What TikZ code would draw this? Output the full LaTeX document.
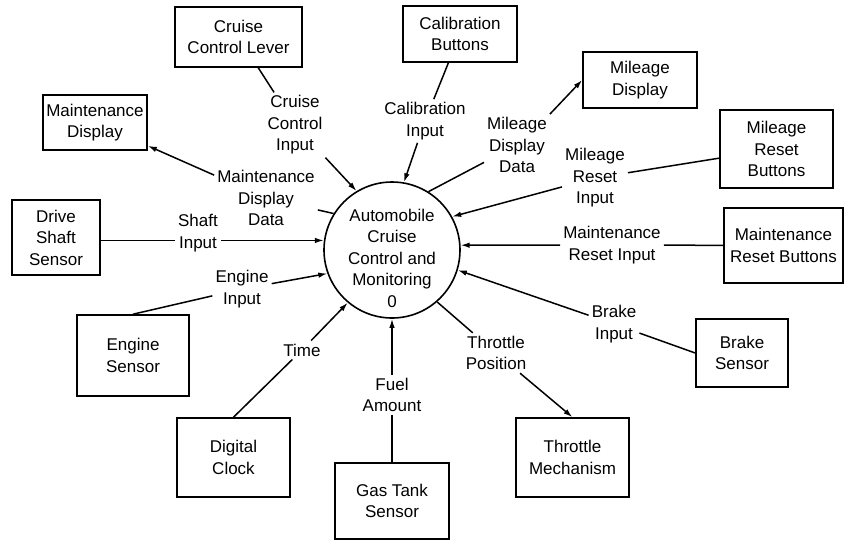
\documentclass[tikz,border=0pt]{standalone}
\usepackage{fontspec}
\setmainfont{Liberation Sans}
\usetikzlibrary{arrows.meta}

\begin{document}
\begin{tikzpicture}[x=1pt,y=-1pt,
    font=\fontsize{17}{21.5}\selectfont,
    box/.style={draw, line width=1.6pt, align=center, inner sep=2pt},
    lbl/.style={align=center, inner sep=3pt},
    link/.style={line width=1.5pt},
    flow/.style={line width=1.5pt, -{Latex[length=9pt,width=5.5pt]}}]
    \useasboundingbox (0,0) rectangle (844,542);

    % Central process
    \node[draw, circle, line width=1.6pt, minimum size=136pt] (proc) at (392,250) {};
    \node[align=center] (proctxt) at (392,258) {Automobile\\Cruise\\Control and\\Monitoring\\0};

    % External entities
    \node[box, minimum width=127pt, minimum height=60pt] (lever) at (238.5,37) {Cruise\\Control Lever};
    \node[box, minimum width=114pt, minimum height=56pt] (calb) at (460,34) {Calibration\\Buttons};
    \node[box, minimum width=114pt, minimum height=56pt] (mdisp) at (640,80) {Mileage\\Display};
    \node[box, minimum width=113pt, minimum height=78pt] (mrb) at (776.5,149) {Mileage\\Reset\\Buttons};
    \node[box, minimum width=119pt, minimum height=75pt] (mtrb) at (783.5,245.5) {Maintenance\\Reset Buttons};
    \node[box, minimum width=92pt, minimum height=68pt] (bsens) at (742,353) {Brake\\Sensor};
    \node[box, minimum width=113pt, minimum height=79pt] (thmech) at (572.5,457.5) {Throttle\\Mechanism};
    \node[box, minimum width=114pt, minimum height=76pt] (gas) at (392,501) {Gas Tank\\Sensor};
    \node[box, minimum width=113pt, minimum height=79pt] (dclock) at (233.5,457.5) {Digital\\Clock};
    \node[box, minimum width=112pt, minimum height=81pt] (esens) at (133,355.5) {Engine\\Sensor};
    \node[box, minimum width=88pt, minimum height=75pt] (dshaft) at (56,237.5) {Drive\\Shaft\\Sensor};
    \node[box, minimum width=104pt, minimum height=55pt] (mtdisp) at (95,122.5) {Maintenance\\Display};

    % Flow labels
    \node[lbl] (ccin) at (295,125) {Cruise\\Control\\Input};
    \node[lbl] (calin) at (425,121) {Calibration\\Input};
    \node[lbl] (mddata) at (517,145) {Mileage\\Display\\Data};
    \node[lbl] (mrin) at (595,178) {Mileage\\Reset\\Input};
    \node[lbl] (mtrin) at (612,245) {Maintenance\\Reset Input};
    \node[lbl] (brin) at (614,324) {Brake\\Input};
    \node[lbl] (thpos) at (496,353) {Throttle\\Position};
    \node[lbl] (fuel) at (392,395) {Fuel\\Amount};
    \node[lbl] (time) at (302,350) {Time};
    \node[lbl] (engin) at (242,289) {Engine\\Input};
    \node[lbl] (shin) at (198,233) {Shaft\\Input};
    \node[lbl] (mtdata) at (266,198) {Maintenance\\Display\\Data};

    % Flows
    \draw[link] (lever) -- (ccin);
    \draw[flow] (ccin) -- (proc.121);
    \draw[link] (calb) -- (calin);
    \draw[flow] (calin) -- (proc.80);
    \draw[link] (proc.58) -- (mddata);
    \draw[flow] (mddata.north east) -- (mdisp.west);
    \draw[link] (mrb) -- (mrin);
    \draw[flow] (mrin) -- (proc.29);
    \draw[link] (mtrb) -- (mtrin);
    \draw[flow] (mtrin) -- (proc.4);
    \draw[link] (brin) -- (bsens.west);
    \draw[flow] (brin) -- (proc.343);
    \draw[link] (proc.311) -- (thpos);
    \draw[flow] (thpos) -- (thmech.north);
    \draw[link] (gas) -- (fuel);
    \draw[flow] (fuel) -- (proc);
    \draw[link] (dclock.north) -- (time);
    \draw[flow] (time) -- (proc.230);
    \draw[link] (esens.north) -- (engin);
    \draw[flow] (engin) -- (proc.200);
    \draw[link] (dshaft.east |- proc.172) -- (shin.west |- proc.172);
    \draw[flow] (shin.east |- proc.172) -- (proc.172);
    \draw[link] (proc.148) -- (mtdata);
    \draw[flow] (mtdata) -- (mtdisp);
\end{tikzpicture}
\end{document}
